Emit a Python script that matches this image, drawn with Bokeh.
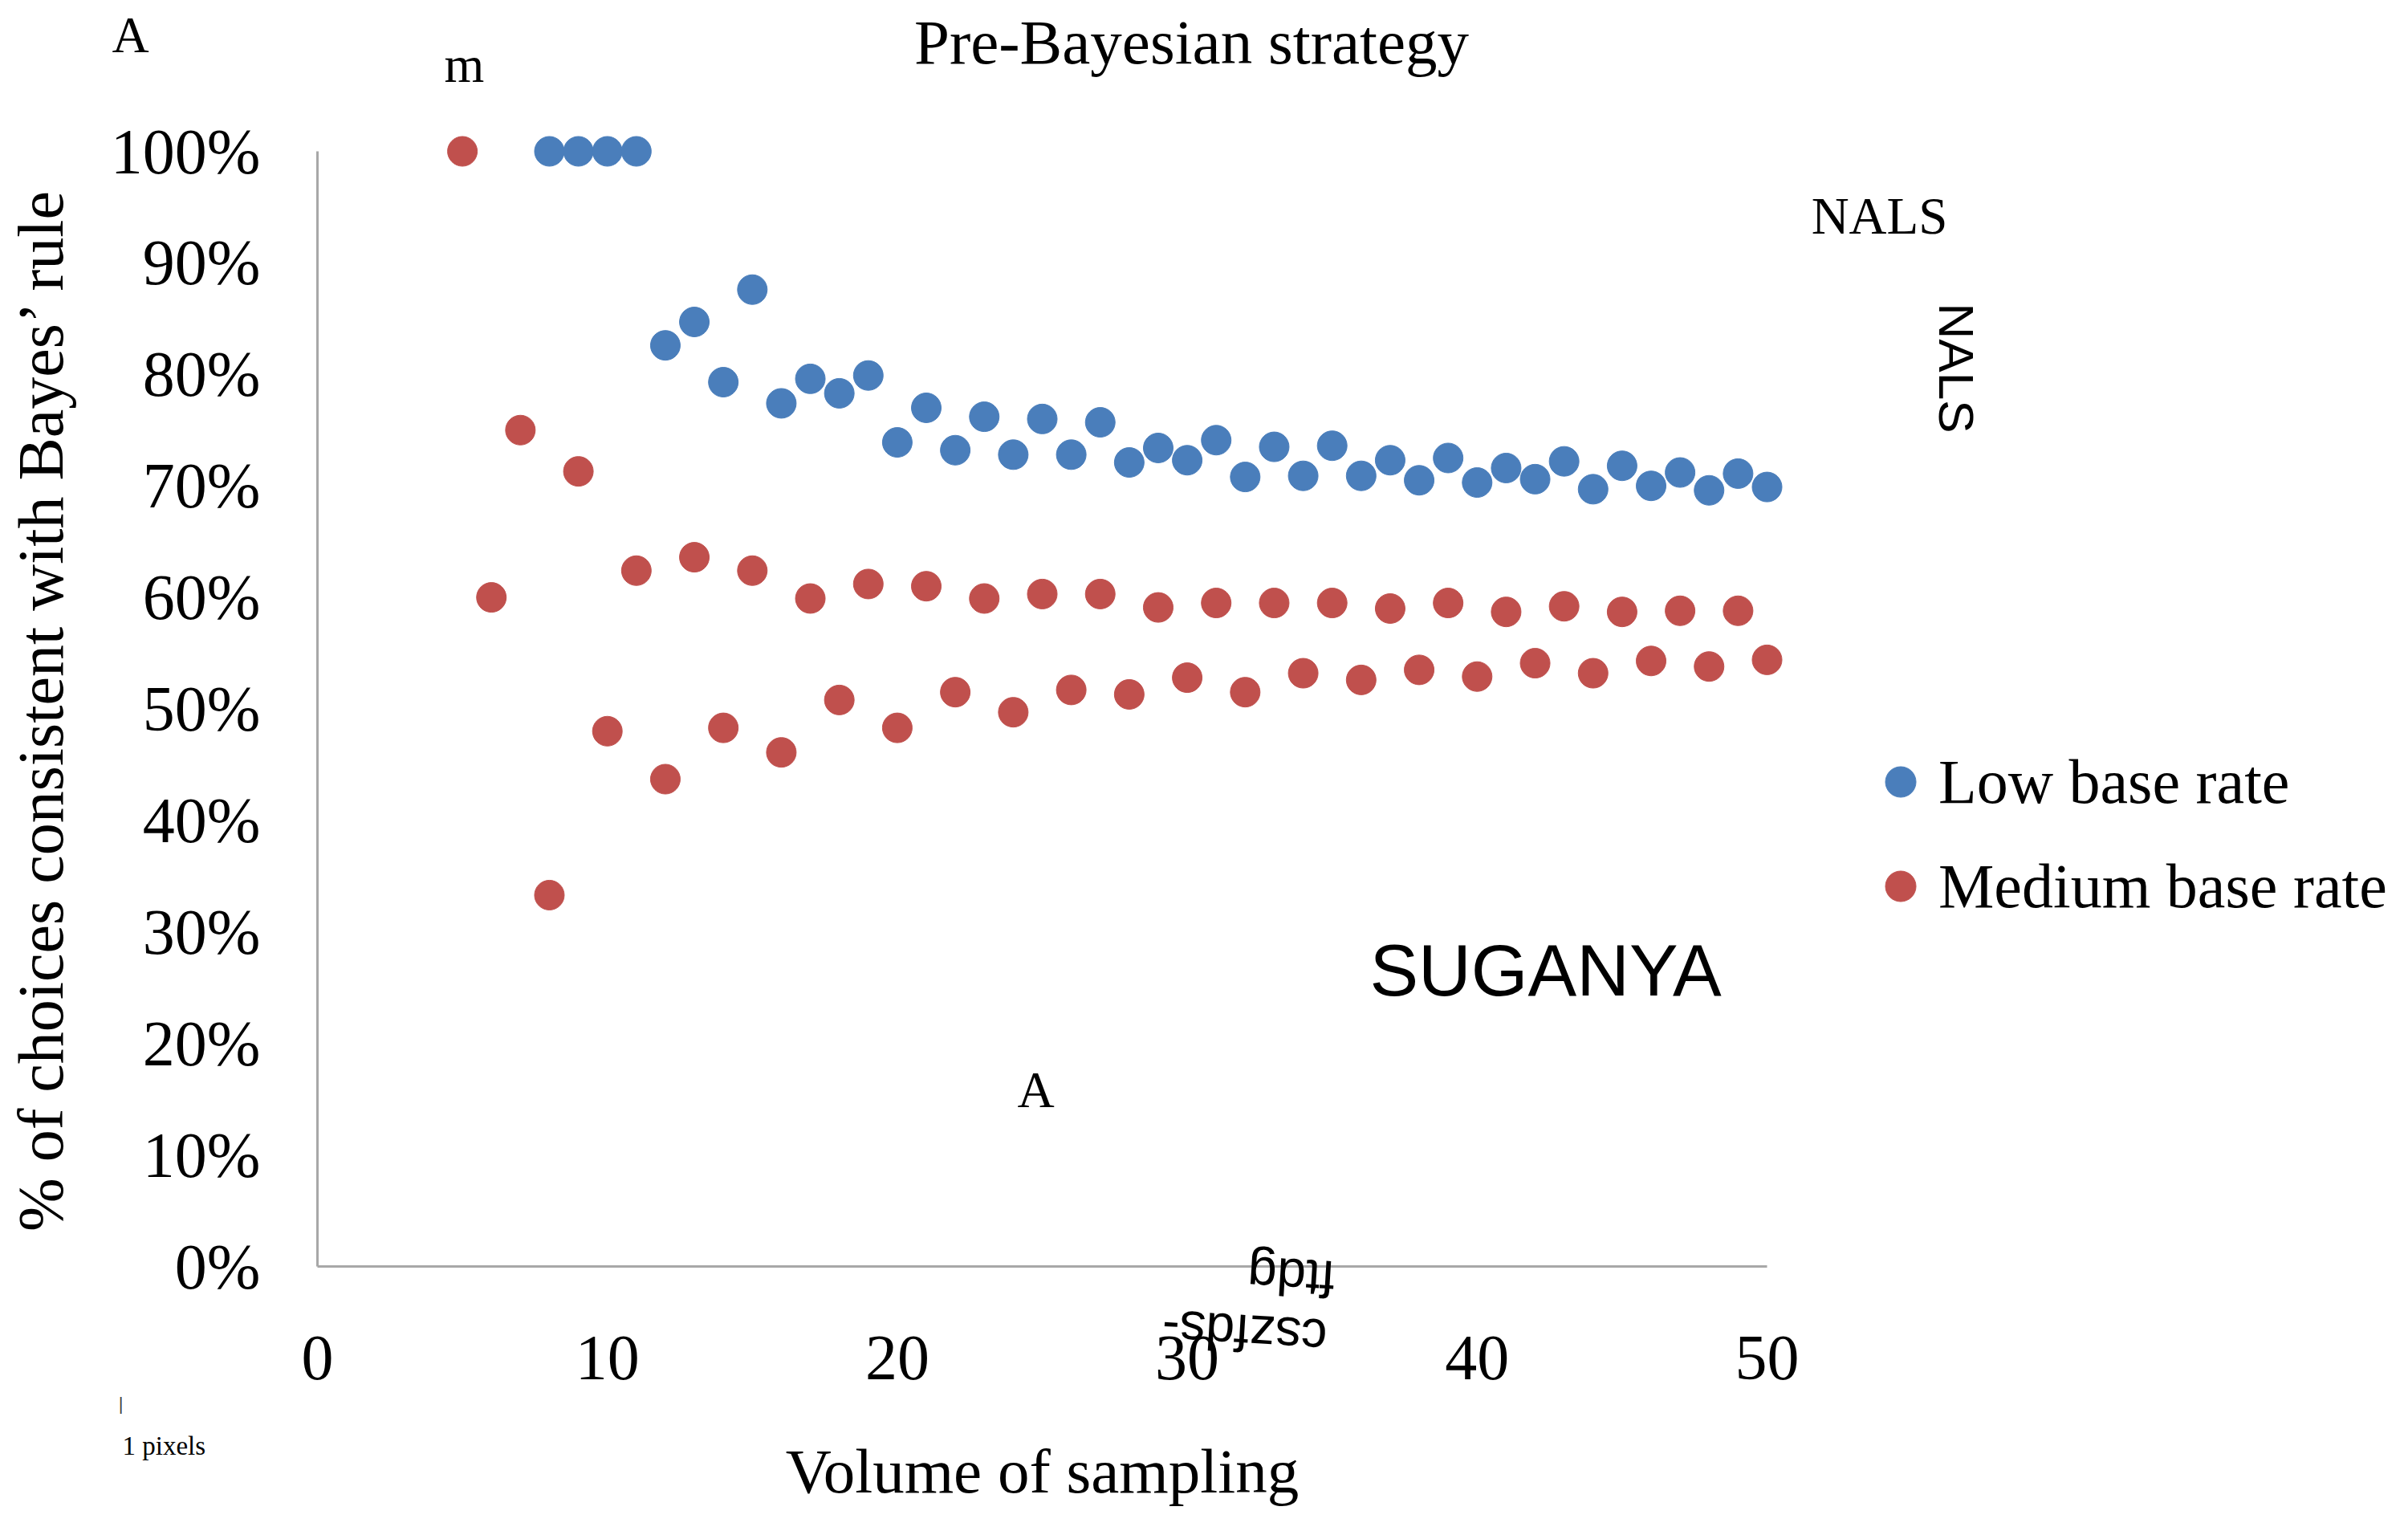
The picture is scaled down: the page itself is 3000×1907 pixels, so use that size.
import math
from bokeh.plotting import figure
from bokeh.models import Range1d, FixedTicker, Label, Legend, LegendItem
from bokeh.embed import file_html
from bokeh.resources import INLINE

# ---- data ----
low_x = list(range(8, 51))
low_y = [100, 100, 100, 100, 82.6, 84.7, 79.3, 87.6, 77.4, 79.6, 78.3, 79.9,
         73.9, 77.0, 73.2, 76.2, 72.8, 76.0, 72.8, 75.7, 72.1, 73.4, 72.3, 74.1,
         70.8, 73.5, 70.9, 73.6, 70.9, 72.3, 70.5, 72.5, 70.3, 71.6, 70.6, 72.2,
         69.7, 71.8, 70.0, 71.2, 69.6, 71.1, 69.9]

med_x = list(range(5, 51))
med_y = [100, 60, 75, 33.3, 71.3,
         48.0, 62.4, 43.7, 63.6, 48.3, 62.4, 46.1, 59.9, 50.8, 61.2,
         48.3, 61.0, 51.5, 59.9, 49.7, 60.3, 51.7, 60.3, 51.3, 59.1,
         52.8, 59.5, 51.5, 59.5, 53.2, 59.5, 52.6, 59.0, 53.5, 59.5,
         52.9, 58.7, 54.1, 59.2, 53.2, 58.7, 54.3, 58.8, 53.8, 58.8,
         54.4]

series_names = ["Low base rate", "Medium base rate"]
x_ticks = [0, 10, 20, 30, 40, 50]
x_tick_labels = ["0", "10", "20", "30", "40", "50"]
y_ticks = [0, 10, 20, 30, 40, 50, 60, 70, 80, 90, 100]
y_tick_labels = ["0%", "10%", "20%", "30%", "40%", "50%", "60%", "70%", "80%", "90%", "100%"]

BLUE = "#4a7ebb"
RED = "#c0504d"
AXIS = "#a8a8a8"
SERIF = "Liberation Serif"
SANS = "Liberation Sans"

# page geometry (reference pixels): x=0 at X0, x=50 at X0+50*PX; y=0 at Y0, 100% at Y0-100*PY
X0, PX = 395.0, 36.12
Y0, PY = 1577.0, 13.89
W, H = 2984, 1890

def dx(X):
    return (X - X0) / PX

def dy(Y):
    return (Y0 - Y) / PY

p = figure(width=W, height=H, output_backend="svg", toolbar_location=None,
           x_range=Range1d(dx(0), dx(W)), y_range=Range1d(dy(H), dy(0)),
           min_border_left=0, min_border_right=0, min_border_top=0, min_border_bottom=0)
p.outline_line_color = None
p.grid.visible = False
p.background_fill_color = "white"
p.border_fill_color = "white"

xa = p.xaxis[0]
xa.fixed_location = 0
xa.ticker = FixedTicker(ticks=x_ticks)
xa.major_label_overrides = {t: l for t, l in zip(x_ticks, x_tick_labels)}
xa.bounds = (0, 50)
xa.axis_line_color = AXIS
xa.axis_line_width = 3
xa.major_tick_line_color = None
xa.minor_tick_line_color = None
xa.major_label_text_font = SERIF
xa.major_label_text_font_size = "80px"
xa.major_label_text_color = "black"
xa.major_label_standoff = 81
xa.axis_label = "Volume of sampling"
xa.axis_label_text_font = SERIF
xa.axis_label_text_font_size = "79px"
xa.axis_label_text_font_style = "normal"
xa.axis_label_text_color = "black"
xa.axis_label_standoff = 68

ya = p.yaxis[0]
ya.fixed_location = 0
ya.ticker = FixedTicker(ticks=y_ticks)
ya.major_label_overrides = {t: l for t, l in zip(y_ticks, y_tick_labels)}
ya.bounds = (0, 100)
ya.axis_line_color = AXIS
ya.axis_line_width = 3
ya.major_tick_line_color = None
ya.minor_tick_line_color = None
ya.major_label_text_font = SERIF
ya.major_label_text_font_size = "80px"
ya.major_label_text_color = "black"
ya.major_label_standoff = 65
ya.axis_label = "% of choices consistent with Bayes\u2019 rule"
ya.axis_label_text_font = SERIF
ya.axis_label_text_font_size = "80px"
ya.axis_label_text_font_style = "normal"
ya.axis_label_text_color = "black"
ya.axis_label_standoff = 40

r_low = p.scatter(low_x, low_y, size=37, fill_color=BLUE, line_color=BLUE)
r_med = p.scatter(med_x, med_y, size=37, fill_color=RED, line_color=RED)

legend = Legend(items=[LegendItem(label=series_names[0], renderers=[r_low]),
                       LegendItem(label=series_names[1], renderers=[r_med])],
                location=(2320, H - 1151), orientation="vertical",
                glyph_width=95, glyph_height=95, label_height=95,
                label_standoff=-32, spacing=35, padding=0, margin=0,
                border_line_color=None, background_fill_alpha=0,
                label_text_font=SERIF, label_text_font_size="78px",
                label_text_color="black", label_text_baseline="middle")
p.add_layout(legend)

# free-floating texts (positions in reference pixels)
def lab(text, X, Y, size, font=SERIF, angle=0.0, align="center", color="black"):
    p.add_layout(Label(x=dx(X), y=dy(Y),
                       text=text, text_font=font, text_font_size=f"{size}px",
                       text_align=align, text_baseline="middle",
                       angle=angle, text_color=color))

lab("Pre-Bayesian strategy", 1484, 52, 79)
lab("A", 162, 43, 64)
lab("m", 578, 80, 64)
lab("NALS", 2341, 268, 65)
lab("NALS", 2437, 458, 62, font=SANS, angle=-math.pi / 2)
lab("SUGANYA", 1925, 1208, 91, font=SANS)
lab("A", 1290, 1357, 64)
lab("ftdg", 1608, 1590, 65, font=SANS, angle=math.pi - 0.06)
lab("cszfds-", 1550, 1660, 65, font=SANS, angle=math.pi - 0.06)
lab("1 pixels", 152, 1800, 33, align="left")
lab("|", 150, 1748, 22, font=SANS, color="#444444")

open("out.html", "w").write(file_html(p, INLINE))
